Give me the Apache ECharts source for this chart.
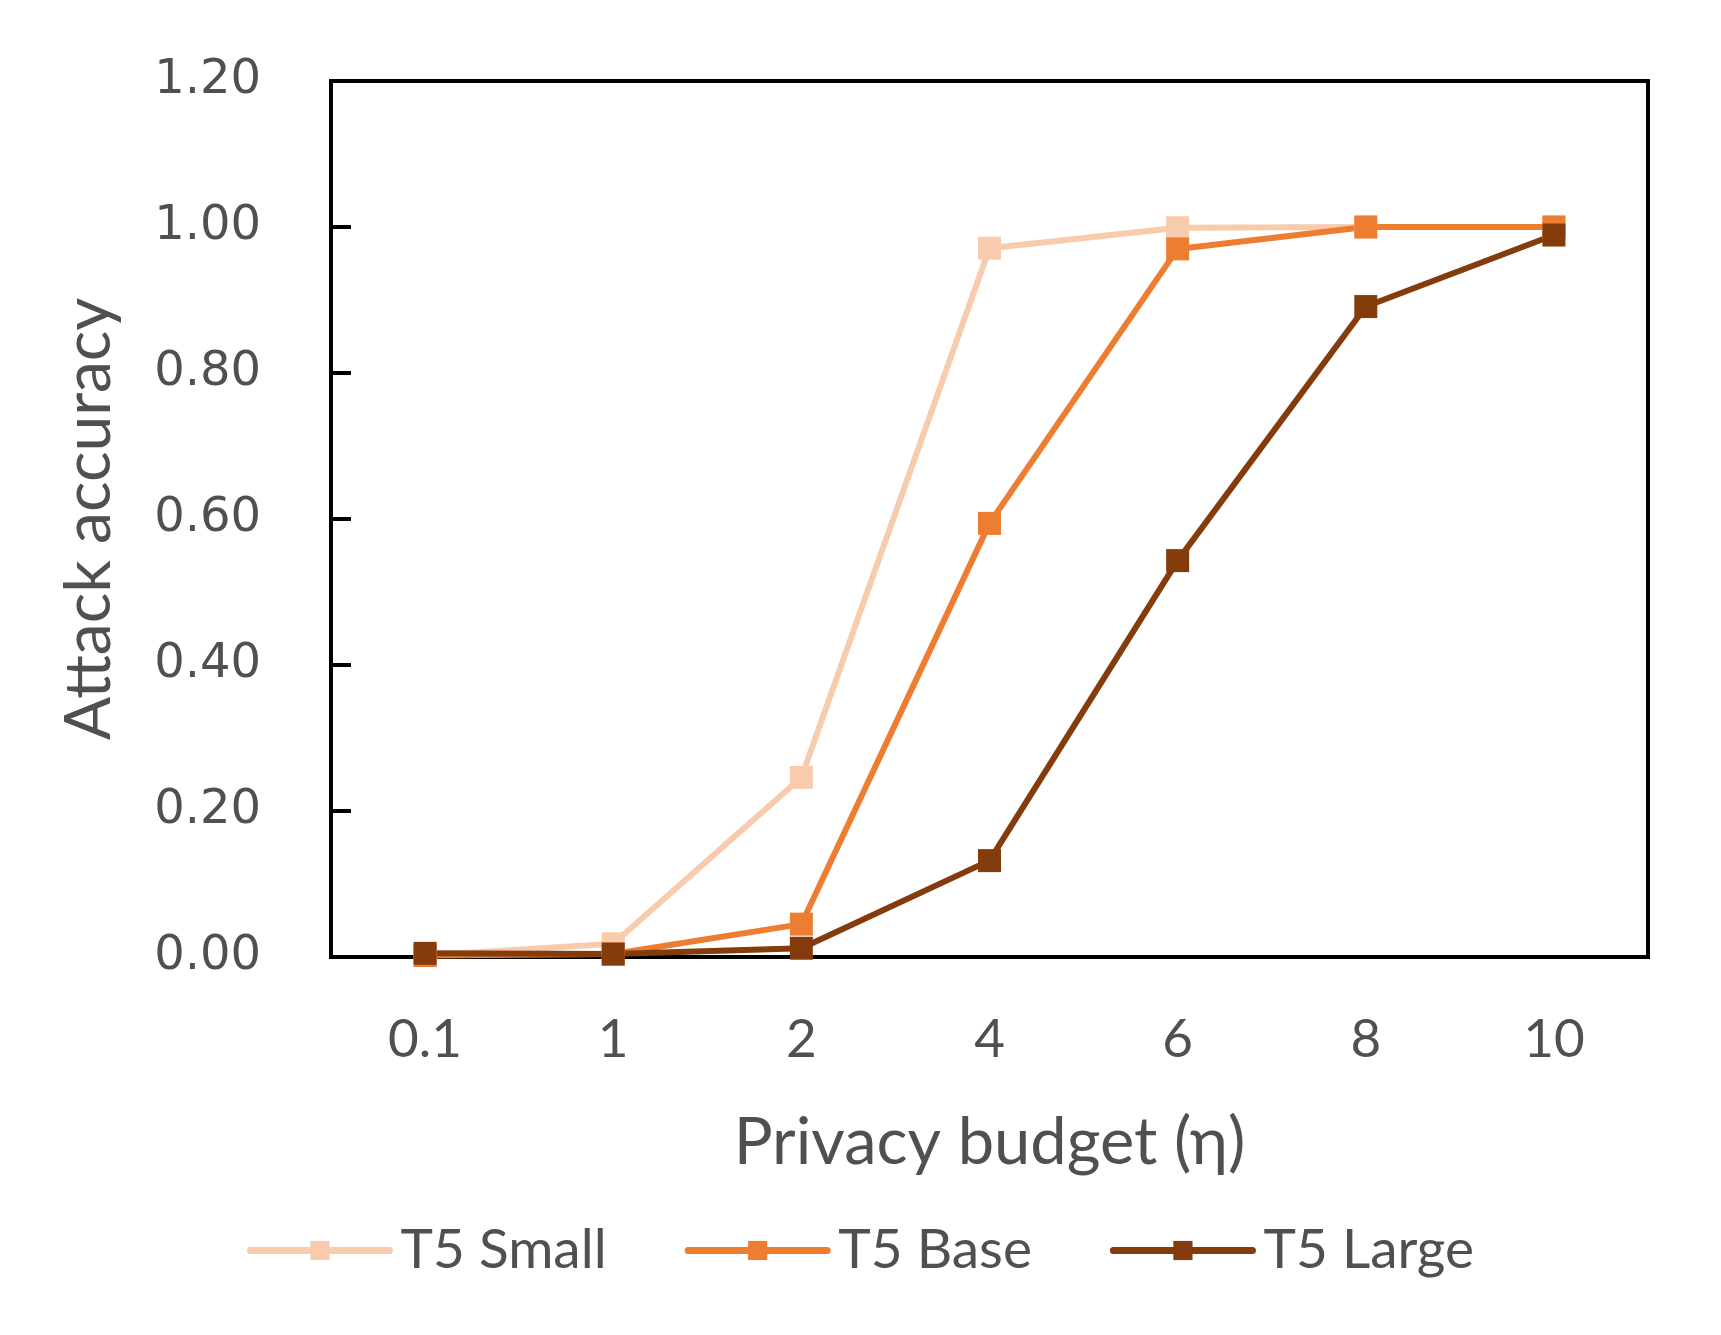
<!DOCTYPE html>
<html>
<head>
<meta charset="utf-8">
<script src="https://cdn.jsdelivr.net/npm/echarts@6/dist/echarts.min.js"></script>
<style>
  html, body { margin: 0; padding: 0; background: #fff; }
  #main { width: 1721px; height: 1335px; }
</style>
</head>
<body>
<div id="main"></div>
<script>
// privacy budget categories
var budgets = ['0.1', '1', '2', '4', '6', '8', '10'];

// attack accuracy per model
var t5Small = [0.002, 0.018, 0.246, 0.971, 0.999, 1.0, 1.0];
var t5Base  = [0.002, 0.004, 0.045, 0.594, 0.970, 1.0, 1.0];
var t5Large = [0.005, 0.004, 0.012, 0.132, 0.543, 0.891, 0.989];

var textColor = '#505050';

function makeSeries(name, data, color) {
    return {
        name: name,
        type: 'line',
        data: data,
        symbol: 'rect',
        symbolSize: 23,
        lineStyle: { color: color, width: 6 },
        itemStyle: { color: color },
        emphasis: { disabled: true }
    };
}

var myChart = echarts.init(document.getElementById('main'));
var option = {
    animation: false,
    backgroundColor: '#fff',
    grid: {
        left: 331,
        right: 73,
        top: 81,
        bottom: 378,
        show: true,
        borderColor: '#000',
        borderWidth: 4
    },
    legend: {
        bottom: 52,
        left: 'center',
        itemWidth: 139,
        itemHeight: 24,
        itemGap: 78,
        lineStyle: { width: 7, cap: 'round' },
        textStyle: {
            fontFamily: 'Lato',
            fontSize: 55,
            color: textColor,
            padding: [0, 0, 0, 6]
        },
        data: ['T5 Small', 'T5 Base', 'T5 Large']
    },
    xAxis: {
        type: 'category',
        data: budgets,
        boundaryGap: true,
        name: 'Privacy budget (\u03b7)',
        nameLocation: 'middle',
        nameGap: 154,
        nameTextStyle: { fontFamily: 'Lato', fontSize: 65, color: textColor },
        axisLine: { lineStyle: { color: '#000', width: 4 } },
        axisTick: { show: false },
        axisLabel: {
            margin: 56,
            fontFamily: 'Lato',
            fontSize: 53,
            color: textColor
        },
        splitLine: { show: false }
    },
    yAxis: {
        type: 'value',
        min: 0,
        max: 1.2,
        interval: 0.2,
        name: 'Attack accuracy',
        nameLocation: 'middle',
        nameGap: 210,
        nameTextStyle: { fontFamily: 'Lato', fontSize: 64, color: textColor },
        axisLine: { show: true, lineStyle: { color: '#000', width: 4 } },
        axisTick: { show: true, inside: true, length: 20, lineStyle: { color: '#000', width: 4 } },
        axisLabel: {
            margin: 70,
            fontFamily: 'DejaVu Sans',
            fontSize: 48,
            color: textColor,
            formatter: function (v) { return v.toFixed(2); }
        },
        splitLine: { show: false }
    },
    series: [
        makeSeries('T5 Small', t5Small, '#F8CBAD'),
        makeSeries('T5 Base', t5Base, '#ED7D31'),
        makeSeries('T5 Large', t5Large, '#843C0C')
    ]
};
myChart.setOption(option);
</script>
</body>
</html>
